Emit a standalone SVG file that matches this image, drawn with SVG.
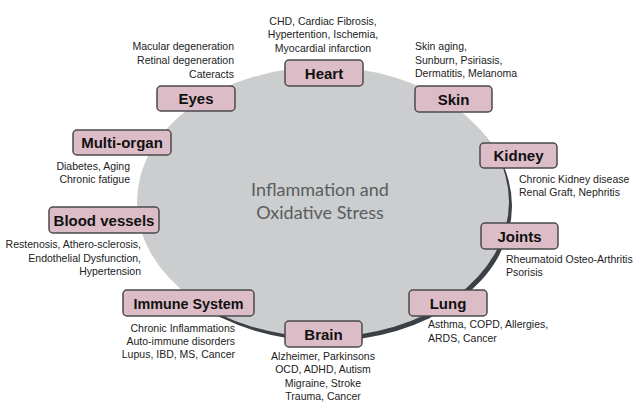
<svg xmlns="http://www.w3.org/2000/svg" width="636" height="404" viewBox="0 0 636 404">
<style>
.box{fill:#dcbdc7;stroke:#4a4a4c;stroke-width:1.5}
.lbl{font-family:"Liberation Sans",Arial,sans-serif;font-weight:bold;font-size:15px;fill:#111;text-anchor:middle}
.d{font-family:"Liberation Sans",Arial,sans-serif;font-size:10.5px;fill:#222}
.m{text-anchor:middle}.e{text-anchor:end}.s{text-anchor:start}
.ctr{font-family:Lato,"Open Sans",sans-serif;font-size:18px;fill:#5a5d60;text-anchor:middle}
</style>
<defs>
<clipPath id="rimclip"><rect x="218" y="120" width="420" height="290"/></clipPath>
</defs>
<rect width="636" height="404" fill="#ffffff"/>
<g id="center">
<ellipse cx="326" cy="206" rx="186" ry="135" fill="#3c3f45" clip-path="url(#rimclip)"/>
<ellipse cx="323" cy="202" rx="186" ry="135" fill="#cbcdce"/>
<text class="ctr" x="320" y="196">Inflammation and</text>
<text class="ctr" x="320" y="219">Oxidative Stress</text>
</g>
<g id="connectors"></g>
<g id="heart">
<rect class="box" x="285" y="60" width="78" height="26" rx="4"/>
<text class="lbl" x="324" y="79">Heart</text>
<text class="d m" x="323" y="24.5">CHD, Cardiac Fibrosis,</text>
<text class="d m" x="323" y="38">Hypertention, Ischemia,</text>
<text class="d m" x="323" y="51.5">Myocardial infarction</text>
</g>
<g id="eyes">
<rect class="box" x="157" y="86" width="78" height="25" rx="4"/>
<text class="lbl" x="196" y="104">Eyes</text>
<text class="d e" x="234" y="50">Macular degeneration</text>
<text class="d e" x="234" y="64">Retinal degeneration</text>
<text class="d e" x="234" y="78">Cateracts</text>
</g>
<g id="skin">
<rect class="box" x="415" y="86" width="77" height="26" rx="4"/>
<text class="lbl" x="453.5" y="104.5">Skin</text>
<text class="d s" x="415" y="50">Skin aging,</text>
<text class="d s" x="415" y="63.5">Sunburn, Psiriasis,</text>
<text class="d s" x="415" y="77">Dermatitis, Melanoma</text>
</g>
<g id="multi-organ">
<rect class="box" x="73" y="130" width="98" height="25" rx="4"/>
<text class="lbl" x="122" y="148">Multi-organ</text>
<text class="d e" x="130" y="170">Diabetes, Aging</text>
<text class="d e" x="130" y="183">Chronic fatigue</text>
</g>
<g id="kidney">
<rect class="box" x="480" y="143" width="77" height="25" rx="4"/>
<text class="lbl" x="518.5" y="161">Kidney</text>
<text class="d s" x="519" y="183">Chronic Kidney disease</text>
<text class="d s" x="519" y="196">Renal Graft, Nephritis</text>
</g>
<g id="blood-vessels">
<rect class="box" x="49" y="207" width="110" height="26" rx="4"/>
<text class="lbl" x="104" y="225.5">Blood vessels</text>
<text class="d e" x="141" y="248">Restenosis, Athero-sclerosis,</text>
<text class="d e" x="141" y="262">Endothelial Dysfunction,</text>
<text class="d e" x="141" y="275">Hypertension</text>
</g>
<g id="joints">
<rect class="box" x="481" y="223" width="77" height="26" rx="4"/>
<text class="lbl" x="519.5" y="241.5">Joints</text>
<text class="d s" x="506" y="263">Rheumatoid Osteo-Arthritis</text>
<text class="d s" x="506" y="276">Psorisis</text>
</g>
<g id="immune-system">
<rect class="box" x="123" y="290" width="131" height="26" rx="4"/>
<text class="lbl" x="188.5" y="308.5" textLength="110" lengthAdjust="spacingAndGlyphs">Immune System</text>
<text class="d e" x="235" y="332">Chronic Inflammations</text>
<text class="d e" x="235" y="345">Auto-immune disorders</text>
<text class="d e" x="235" y="358">Lupus, IBD, MS, Cancer</text>
</g>
<g id="lung">
<rect class="box" x="409" y="290" width="78" height="26" rx="4"/>
<text class="lbl" x="448" y="308.5">Lung</text>
<text class="d s" x="428" y="328">Asthma, COPD, Allergies,</text>
<text class="d s" x="428" y="342">ARDS, Cancer</text>
</g>
<g id="brain">
<rect class="box" x="285" y="321" width="77" height="26" rx="4"/>
<text class="lbl" x="323.5" y="339.5">Brain</text>
<text class="d m" x="323" y="360">Alzheimer, Parkinsons</text>
<text class="d m" x="323" y="373">OCD, ADHD, Autism</text>
<text class="d m" x="323" y="386.5">Migraine, Stroke</text>
<text class="d m" x="323" y="399.5">Trauma, Cancer</text>
</g>
</svg>
